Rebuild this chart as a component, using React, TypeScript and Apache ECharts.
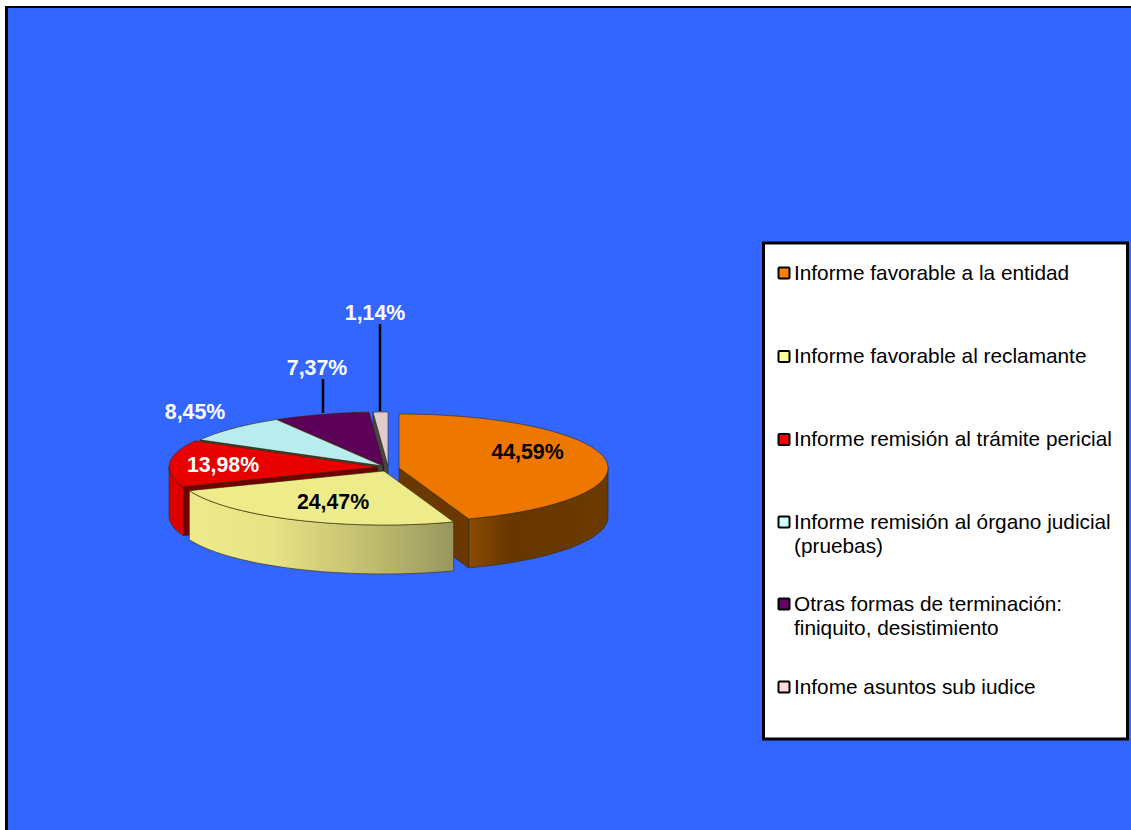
import React, { useEffect, useRef } from "react";
import * as echarts from "echarts";

const categories = [
  "Informe favorable a la entidad",
  "Informe favorable al reclamante",
  "Informe remisión al trámite pericial",
  "Informe remisión al órgano judicial (pruebas)",
  "Otras formas de terminación: finiquito, desistimiento",
  "Infome asuntos sub iudice",
];
const legendLines = [
  ["Informe favorable a la entidad"],
  ["Informe favorable al reclamante"],
  ["Informe remisión al trámite pericial"],
  ["Informe remisión al órgano judicial", "(pruebas)"],
  ["Otras formas de terminación:", "finiquito, desistimiento"],
  ["Infome asuntos sub iudice"],
];
const values = [44.59, 24.47, 13.98, 8.45, 7.37, 1.14];
const valueLabels = ["44,59%", "24,47%", "13,98%", "8,45%", "7,37%", "1,14%"];

const topColors = ["#ee7700", "#eeec8a", "#e80000", "#b8ecee", "#5c0058", "#e0cccc"];
const cutColors = ["#6b3800", "#77763f", "#700000", "#3a4648", "#1c001b", "#4a4444"];
const swatchColors = ["#ff8000", "#ffff99", "#ff0000", "#ccffff", "#660066", "#ffdcdc"];
const labelColors = ["#000", "#000", "#fff", "#fff", "#fff", "#fff"];

const apexes = [[399, 468], [384, 471], [378, 467], [383, 466], [384, 466], [388, 466]];
const labelPos = [[527.5, 452], [333, 502], [223, 465], [195, 412], [317, 368], [375, 313]];
const leaders: (number[] | null)[] = [null, null, null, null, [323, 379, 413], [380, 324, 411]];
const legendY = [273, 356.5, 439.5, 522, 604, 687];
const drawOrder = [5, 4, 3, 2, 0, 1];

const RX = 209;
const RY = 54;
const DEPTH = 49;
const FONT = "'Liberation Sans', Arial, sans-serif";
const EDGE = "rgba(50,40,0,0.75)";

const total = values.reduce((a, b) => a + b, 0);
const startAngles: number[] = [];
values.reduce((acc, v, i) => {
  startAngles[i] = (acc / total) * 360;
  return acc + v;
}, 0);

function pt(i: number, deg: number, dy = 0): number[] {
  const r = (deg * Math.PI) / 180;
  return [apexes[i][0] + RX * Math.sin(r), apexes[i][1] - RY * Math.cos(r) + dy];
}
function arc(i: number, a: number, b: number, dy = 0): number[][] {
  const n = Math.max(2, Math.ceil(Math.abs(b - a) / 2));
  const out: number[][] = [];
  for (let k = 0; k <= n; k++) out.push(pt(i, a + ((b - a) * k) / n, dy));
  return out;
}
function rimFill(i: number): any {
  if (i === 0)
    return {
      type: "linear", x: 0, y: 0, x2: 1, y2: 0,
      colorStops: [
        { offset: 0, color: "#8b4a00" },
        { offset: 0.3, color: "#683700" },
        { offset: 1, color: "#6b3a00" },
      ],
    };
  if (i === 1)
    return {
      type: "linear", x: 0, y: 0, x2: 1, y2: 0,
      colorStops: [
        { offset: 0, color: "#eeea8c" },
        { offset: 0.3, color: "#e8e486" },
        { offset: 0.7, color: "#bfbb6e" },
        { offset: 1, color: "#97975e" },
      ],
    };
  return "#dd0000";
}

function renderSlice(i: number) {
  const a = startAngles[i];
  const b = a + (values[i] / total) * 360;
  const children: any[] = [];
  const face = (points: number[][], fill: any) =>
    children.push({
      type: "polygon",
      shape: { points },
      style: { fill, stroke: EDGE, lineWidth: 0.8 },
    });
  const cut = (deg: number) => {
    const e = pt(i, deg);
    const c = apexes[i];
    face([c, e, [e[0], e[1] + DEPTH], [c[0], c[1] + DEPTH]], cutColors[i]);
  };
  if (a > 180 && a < 360) cut(a);
  if (b > 0 && b < 180) cut(b);
  const ra = Math.max(a, 90);
  const rb = Math.min(b, 270);
  if (rb > ra) {
    const top = arc(i, ra, rb);
    const bottom = arc(i, rb, ra, DEPTH);
    face([...top, ...bottom], rimFill(i));
  }
  face([apexes[i], ...arc(i, a, b)], topColors[i]);
  const lead = leaders[i];
  if (lead)
    children.push({
      type: "line",
      shape: { x1: lead[0], y1: lead[1], x2: lead[0], y2: lead[2] },
      style: { stroke: "#000", lineWidth: 2.5 },
    });
  children.push({
    type: "text",
    x: labelPos[i][0],
    y: labelPos[i][1],
    style: {
      text: valueLabels[i],
      fill: labelColors[i],
      font: `bold 21.3px ${FONT}`,
      align: "center",
      verticalAlign: "middle",
    },
  });
  return { type: "group", children };
}

function legendGraphic() {
  const items: any[] = [
    {
      type: "rect",
      shape: { x: 6, y: 7, width: 1140, height: 840 },
      style: { fill: "#3366ff", stroke: "#000", lineWidth: 2 },
    },
    {
      type: "line",
      shape: { x1: 6.5, y1: 6, x2: 6.5, y2: 830 },
      style: { stroke: "#000", lineWidth: 3 },
    },
    {
      type: "rect",
      shape: { x: 763.5, y: 243, width: 364, height: 496 },
      style: { fill: "#fff", stroke: "#000", lineWidth: 3 },
    },
  ];
  categories.forEach((_, i) => {
    items.push({
      type: "rect",
      shape: { x: 778.5, y: legendY[i] - 5.5, width: 11, height: 11, r: 1 },
      style: { fill: swatchColors[i], stroke: "#000", lineWidth: 2 },
    });
    legendLines[i].forEach((line, k) =>
      items.push({
        type: "text",
        x: 794,
        y: legendY[i] + k * 24 - 0.8,
        style: {
          text: line,
          fill: "#000",
          font: `20.8px ${FONT}`,
          align: "left",
          verticalAlign: "middle",
        },
      })
    );
  });
  return items;
}

export default function App() {
  const ref = useRef<HTMLDivElement>(null);
  useEffect(() => {
    document.body.style.margin = "0";
    const chart = echarts.init(ref.current!, undefined, { renderer: "svg" });
    chart.setOption({
      animation: false,
      backgroundColor: "#fff",
      graphic: { elements: legendGraphic() },
      series: drawOrder.map((i) => ({
        type: "custom",
        name: categories[i],
        coordinateSystem: "none",
        silent: true,
        z: 10,
        data: [values[i]],
        renderItem: () => renderSlice(i),
      })),
    });
    return () => chart.dispose();
  }, []);
  return <div ref={ref} style={{ width: 1131, height: 830 }} />;
}
